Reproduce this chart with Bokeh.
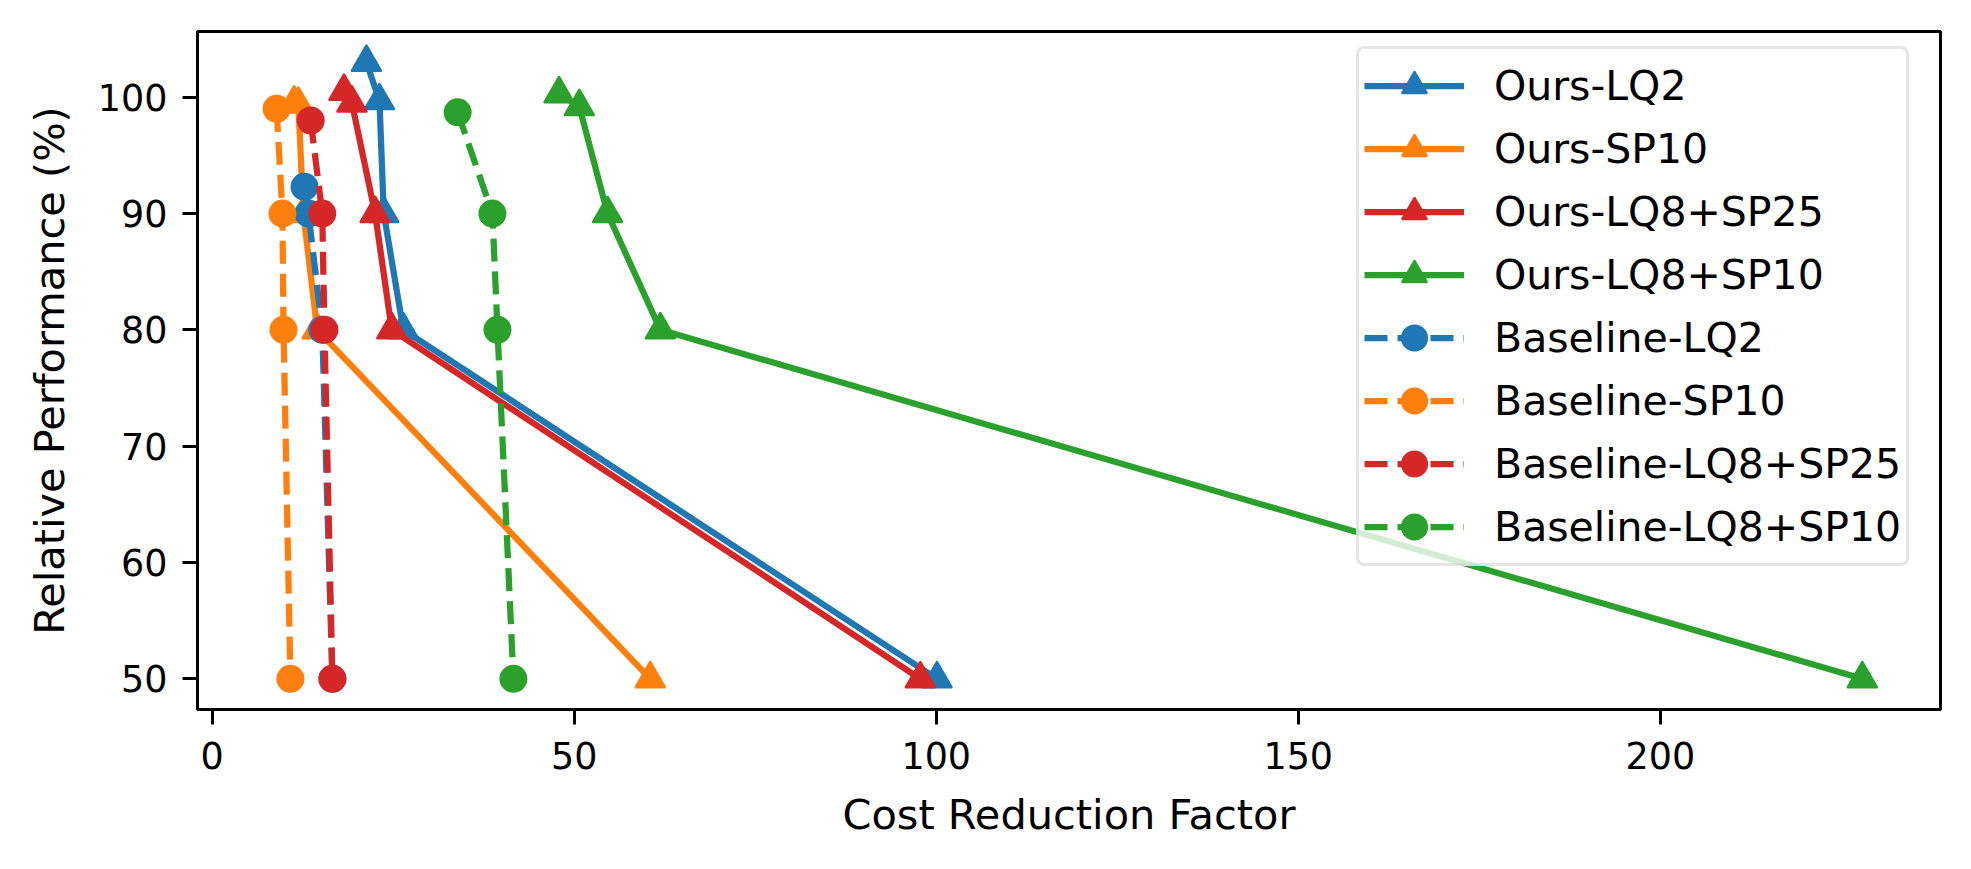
from bokeh.plotting import figure
from bokeh.models import Range1d, FixedTicker, Legend, LegendItem
from bokeh.embed import file_html
from bokeh.resources import INLINE

# ---- data ----
ours_lq2_x = [21.3, 23.1, 23.7, 26.4, 100.1]
ours_lq2_y = [103.0, 99.7, 90.0, 80.0, 50.0]

ours_sp10_x = [11.3, 11.9, 12.6, 14.5, 60.5]
ours_sp10_y = [99.5, 99.4, 90.0, 80.0, 50.0]

ours_lq8sp25_x = [18.2, 19.3, 22.5, 24.8, 97.8]
ours_lq8sp25_y = [100.5, 99.5, 90.0, 80.0, 50.0]

ours_lq8sp10_x = [47.9, 50.7, 54.6, 61.9, 227.9]
ours_lq8sp10_y = [100.3, 99.2, 90.0, 80.0, 50.0]

base_lq2_x = [12.75, 13.3, 15.2, 16.6]
base_lq2_y = [92.3, 90.0, 80.0, 50.0]

base_sp10_x = [8.9, 9.7, 9.85, 10.8]
base_sp10_y = [99.0, 90.0, 80.0, 50.0]

base_lq8sp25_x = [13.6, 15.2, 15.5, 16.6]
base_lq8sp25_y = [98.0, 90.0, 80.0, 50.0]

base_lq8sp10_x = [33.9, 38.7, 39.4, 41.6]
base_lq8sp10_y = [98.7, 90.0, 80.0, 50.0]

x_ticks = [0, 50, 100, 150, 200]
y_ticks = [50, 60, 70, 80, 90, 100]

series = [
    ("Ours-LQ2", ours_lq2_x, ours_lq2_y, "#1f77b4", "solid", "triangle"),
    ("Ours-SP10", ours_sp10_x, ours_sp10_y, "#ff7f0e", "solid", "triangle"),
    ("Ours-LQ8+SP25", ours_lq8sp25_x, ours_lq8sp25_y, "#d62728", "solid", "triangle"),
    ("Ours-LQ8+SP10", ours_lq8sp10_x, ours_lq8sp10_y, "#2ca02c", "solid", "triangle"),
    ("Baseline-LQ2", base_lq2_x, base_lq2_y, "#1f77b4", "dashed", "circle"),
    ("Baseline-SP10", base_sp10_x, base_sp10_y, "#ff7f0e", "dashed", "circle"),
    ("Baseline-LQ8+SP25", base_lq8sp25_x, base_lq8sp25_y, "#d62728", "dashed", "circle"),
    ("Baseline-LQ8+SP10", base_lq8sp10_x, base_lq8sp10_y, "#2ca02c", "dashed", "circle"),
]

FONT = "DejaVu Sans"
TICK_FS = "36.5px"
LABEL_FS = "41.5px"
LEGEND_FS = "41px"

p = figure(width=1955, height=853, output_backend="svg", toolbar_location=None,
           x_range=Range1d(-2.03, 238.7), y_range=Range1d(47.36, 105.65),
           min_border_left=197, min_border_right=15, min_border_top=31, min_border_bottom=144)

p.xgrid.visible = False
p.ygrid.visible = False
p.background_fill_color = "white"
p.border_fill_color = "white"
p.outline_line_color = "black"
p.outline_line_width = 3
p.outline_line_alpha = 1

p.xaxis.ticker = FixedTicker(ticks=x_ticks)
p.yaxis.ticker = FixedTicker(ticks=y_ticks)
p.xaxis.axis_label = "Cost Reduction Factor"
p.yaxis.axis_label = "Relative Performance (%)"

for ax in (p.xaxis, p.yaxis):
    ax.axis_line_color = "black"
    ax.axis_line_width = 3
    ax.major_tick_line_color = "black"
    ax.major_tick_line_width = 3
    ax.major_tick_out = 15
    ax.major_tick_in = 0
    ax.minor_tick_out = 0
    ax.minor_tick_in = 0
    ax.major_label_text_font = FONT
    ax.major_label_text_font_size = TICK_FS
    ax.major_label_text_color = "black"
    ax.axis_label_text_font = FONT
    ax.axis_label_text_font_size = LABEL_FS
    ax.axis_label_text_font_style = "normal"
    ax.axis_label_text_color = "black"

p.xaxis.major_label_standoff = 17
p.yaxis.major_label_standoff = 15
p.xaxis.axis_label_standoff = 18
p.yaxis.axis_label_standoff = 21

items = []
for name, xs, ys, color, dash, marker in series:
    if dash == "dashed":
        lr = p.line(xs, ys, line_color=color, line_width=6.25, line_dash="23 10")
        size = 26
    else:
        lr = p.line(xs, ys, line_color=color, line_width=6.25)
        size = 30
    sr = p.scatter(xs, ys, marker=marker, size=size, fill_color=color,
                   line_color=color, line_width=2)
    items.append(LegendItem(label=name, renderers=[lr, sr]))

legend = Legend(items=items, location=(1159, 143), orientation="vertical")
legend.label_text_font = FONT
legend.label_text_font_size = LEGEND_FS
legend.label_text_color = "black"
legend.glyph_width = 100
legend.glyph_height = 63
legend.label_height = 63
legend.spacing = 0
legend.padding = 5
legend.margin = 0
legend.label_standoff = 30
legend.border_line_color = "#cccccc"
legend.border_line_width = 3.5
legend.background_fill_color = "white"
legend.background_fill_alpha = 0.8
if hasattr(legend, "border_radius"):
    legend.border_radius = 8
p.add_layout(legend)

open("out.html", "w").write(file_html(p, INLINE))
